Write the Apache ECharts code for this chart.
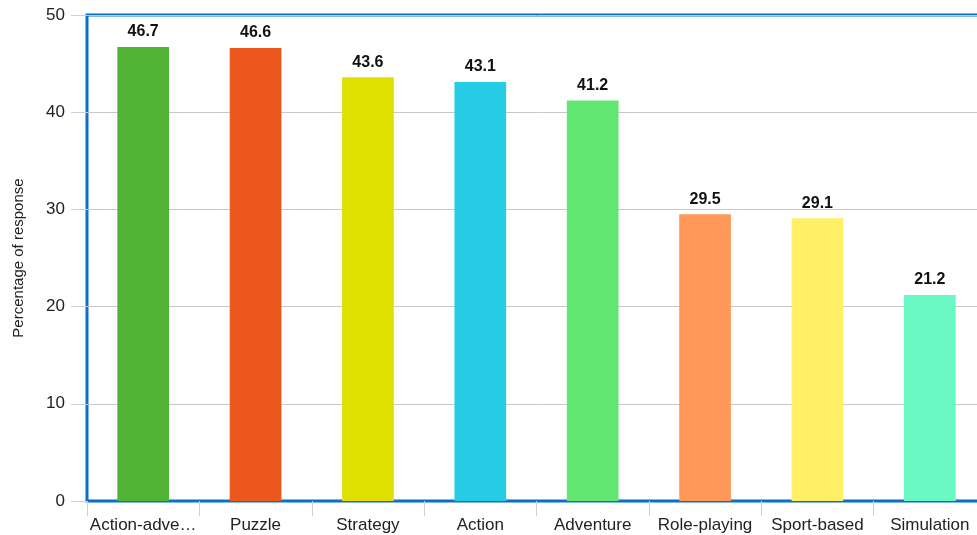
<!DOCTYPE html>
<html>
<head>
<meta charset="utf-8">
<script src="https://cdn.jsdelivr.net/npm/echarts@6/dist/echarts.min.js"></script>
<style>
  html, body { margin: 0; padding: 0; background: #fff; overflow: hidden; }
  /* the plot runs past the right edge of the window, as in the source */
  #chart { width: 1000px; height: 535px; }
</style>
</head>
<body>
<div id="chart"></div>
<script>
// genres and share of responses (%)
const categories = ['Action-adventure', 'Puzzle', 'Strategy', 'Action', 'Adventure', 'Role-playing', 'Sport-based', 'Simulation'];
const values = [46.7, 46.6, 43.6, 43.1, 41.2, 29.5, 29.1, 21.2];
const barColors = ['#52b435', '#ec571e', '#dfe000', '#25cce4', '#62e672', '#ff9859', '#fff065', '#6af8c4'];

const myChart = echarts.init(document.getElementById('chart'));

const options = {
  animation: false,
  textStyle: { fontFamily: 'Liberation Sans, Arial, sans-serif' },
  grid: {
    left: 87,
    right: 14,
    top: 15,
    bottom: 34,
    show: true,
    borderColor: '#0a6fc9',
    borderWidth: 3
  },
  xAxis: {
    type: 'category',
    data: categories,
    axisLine: { show: true, lineStyle: { color: '#0a6fc9', width: 1 } },
    axisTick: { show: true, length: 15, lineStyle: { color: '#c4d2e4' } },
    axisLabel: {
      interval: 0,
      color: '#222',
      fontSize: 17,
      margin: 16,
      width: 110,
      overflow: 'truncate',
      ellipsis: '…'
    }
  },
  yAxis: {
    type: 'value',
    min: 0,
    max: 50,
    interval: 10,
    name: 'Percentage of response',
    nameLocation: 'middle',
    nameGap: 61,
    nameTextStyle: { color: '#222', fontSize: 15 },
    axisLine: { show: false },
    axisTick: { show: true, length: 16, lineStyle: { color: '#c4d2e4' } },
    axisLabel: { color: '#222', fontSize: 17, margin: 22 },
    splitLine: { lineStyle: { color: '#c8c8c8', width: 1 } }
  },
  series: [
    {
      type: 'bar',
      barWidth: '46%',
      data: values.map((v, i) => ({ value: v, itemStyle: { color: barColors[i] } })),
      label: {
        show: true,
        position: 'top',
        distance: 7,
        color: '#111',
        fontSize: 16,
        fontWeight: 'bold'
      }
    }
  ]
};

myChart.setOption(options);
</script>
</body>
</html>
